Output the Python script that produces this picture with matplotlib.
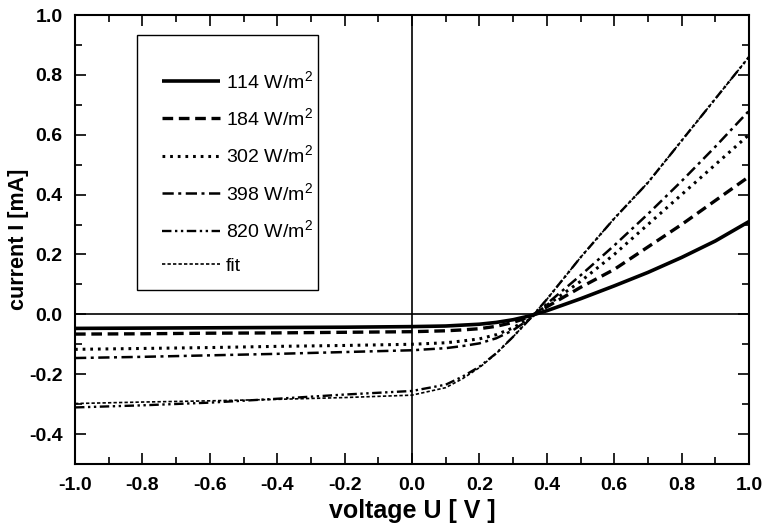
import matplotlib
matplotlib.use("Agg")
import matplotlib.pyplot as plt
from matplotlib.patches import Rectangle
from matplotlib.ticker import MultipleLocator, FormatStrFormatter

plt.rcParams['font.family'] = ['Liberation Sans', 'DejaVu Sans']
plt.rcParams['mathtext.default'] = 'regular'

# voltage grid (V)
voltage = [-1.0, -0.8, -0.6, -0.4, -0.2, 0.0, 0.1, 0.15, 0.2, 0.25, 0.3, 0.35,
           0.4, 0.5, 0.6, 0.7, 0.8, 0.9, 1.0]

# current (mA)
i_114 = [-0.047, -0.046, -0.045, -0.044, -0.043, -0.041, -0.039, -0.036, -0.033, -0.027,
         -0.018, -0.005, 0.012, 0.052, 0.095, 0.14, 0.19, 0.245, 0.31]
i_184 = [-0.066, -0.065, -0.063, -0.062, -0.060, -0.058, -0.055, -0.052, -0.048, -0.040,
         -0.027, -0.008, 0.025, 0.09, 0.15, 0.225, 0.30, 0.38, 0.46]
i_302 = [-0.117, -0.114, -0.111, -0.107, -0.104, -0.100, -0.095, -0.089, -0.082, -0.068,
         -0.045, -0.013, 0.03, 0.11, 0.20, 0.30, 0.40, 0.50, 0.60]
i_398 = [-0.146, -0.142, -0.137, -0.132, -0.126, -0.120, -0.113, -0.106, -0.097, -0.080,
         -0.053, -0.015, 0.035, 0.13, 0.23, 0.335, 0.445, 0.56, 0.68]
i_820 = [-0.311, -0.304, -0.295, -0.282, -0.268, -0.256, -0.235, -0.208, -0.175, -0.13,
         -0.075, -0.015, 0.05, 0.19, 0.32, 0.44, 0.58, 0.72, 0.86]
i_fit = [-0.298, -0.293, -0.289, -0.284, -0.278, -0.270, -0.245, -0.215, -0.178, -0.131,
         -0.075, -0.015, 0.05, 0.19, 0.32, 0.44, 0.58, 0.72, 0.86]

labels = ['114 W/m$^2$', '184 W/m$^2$', '302 W/m$^2$', '398 W/m$^2$', '820 W/m$^2$', 'fit']

fig = plt.figure(figsize=(7.65, 5.25), dpi=100)
ax = fig.add_axes([75/765, 61/525, 674/765, 449/525])

ax.axhline(0, color='black', lw=1.2, zorder=1)
ax.axvline(0, color='black', lw=1.2, zorder=1)

h1, = ax.plot(voltage, i_114, color='black', lw=2.6, solid_capstyle='butt')
h2, = ax.plot(voltage, i_184, color='black', lw=2.4, dashes=(3.2, 1.7))
h3, = ax.plot(voltage, i_302, color='black', lw=2.2, dashes=(0.9, 1.6))
h4, = ax.plot(voltage, i_398, color='black', lw=1.8, dashes=(4.5, 1.8, 1.2, 1.8))
h5, = ax.plot(voltage, i_820, color='black', lw=1.7, dashes=(4, 1.5, 1, 1.5, 1, 1.5))
h6, = ax.plot(voltage, i_fit, color='black', lw=1.2, dashes=(2, 1.3))

ax.set_xlim(-1.0, 1.0)
ax.set_ylim(-0.5, 1.0)
ax.xaxis.set_major_locator(MultipleLocator(0.2))
ax.xaxis.set_minor_locator(MultipleLocator(0.1))
ax.yaxis.set_minor_locator(MultipleLocator(0.1))
ax.xaxis.set_major_formatter(FormatStrFormatter('%.1f'))
ax.yaxis.set_major_formatter(FormatStrFormatter('%.1f'))
ax.set_yticks([-0.4, -0.2, 0.0, 0.2, 0.4, 0.6, 0.8, 1.0])

ax.tick_params(which='both', direction='in', top=True, right=True, width=1.2)
ax.tick_params(which='major', length=8, labelsize=14, pad=9)
ax.tick_params(which='minor', length=5)
for lab in ax.get_xticklabels() + ax.get_yticklabels():
    lab.set_fontweight('bold')
for sp in ax.spines.values():
    sp.set_linewidth(1.5)

ax.set_xlabel('voltage U [ V ]', fontsize=18, fontweight='bold', labelpad=4)
ax.set_ylabel('current I [mA]', fontsize=15.5, fontweight='bold')
ax.yaxis.set_label_coords(-0.068, 0.5)

# legend frame
ax.add_patch(Rectangle(((137-75)/674, (464-290)/449), (318-137)/674, (290-35)/449,
                       transform=ax.transAxes, facecolor='white',
                       edgecolor='black', lw=1.0, zorder=3))
leg = ax.legend([h1, h2, h3, h4, h5, h6], labels, loc='upper left',
                bbox_to_anchor=((152-75)/674, (464-60)/449), frameon=False,
                fontsize=14, handlelength=3.0, handletextpad=0.3,
                labelspacing=0.8, borderpad=0)
leg.set_zorder(4)

fig.savefig('out.png', dpi=100)
